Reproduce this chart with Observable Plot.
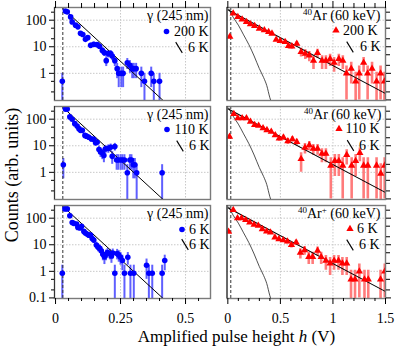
<!DOCTYPE html>
<html><head><meta charset="utf-8">
<script src="https://cdn.jsdelivr.net/npm/d3@7"></script>
<script src="https://cdn.jsdelivr.net/npm/@observablehq/plot@0.6"></script>
<style>
body{margin:0;background:#fff;}
#wrap{position:relative;width:415px;height:351px;overflow:hidden;font-family:"Liberation Serif",serif;color:#000;}
#wrap svg{position:absolute;left:0;top:0;}
.ttl{position:absolute;white-space:nowrap;font-family:"Liberation Serif",serif;font-size:17px;}
</style></head><body><div id="wrap"></div>
<script>
// ---------- data ----------
// gamma (245 nm) panels: pulse height h (V), counts, error
const gH200 = [0.026,0.038,0.045,0.058,0.064,0.077,0.086,0.096,0.105,0.115,0.124,0.135,0.147,0.160,0.169,0.180,0.188,0.195,0.203,0.212,0.218,0.228,0.237,0.243,0.253,0.260,0.276,0.286,0.295,0.301,0.310,0.330,0.342,0.368,0.378,0.400];
const gC200 = [0.5,220,205,133,86,65,56,32,29,19,22,11.3,12.3,12,10.4,7.3,6.0,3.0,5.5,5.5,4.5,3.0,1.5,1.0,1.0,1.0,2.5,2.0,1.5,1.5,1.5,1.0,0.5,1.0,0.5,0.5];
const gE200 = [0.5,10.5,10.1,8.2,6.6,5.7,5.3,4.0,3.8,3.1,3.3,2.4,2.5,2.4,2.3,1.9,1.7,1.2,1.7,1.7,1.5,1.2,0.87,0.71,0.71,0.71,1.1,1.0,0.87,0.87,0.87,0.71,0.5,0.71,0.5,0.5];

const gH110 = [0.030,0.038,0.045,0.055,0.064,0.074,0.083,0.090,0.096,0.103,0.113,0.119,0.128,0.138,0.147,0.154,0.160,0.167,0.173,0.180,0.186,0.192,0.203,0.212,0.218,0.228,0.235,0.241,0.250,0.257,0.265,0.276,0.286,0.292,0.299,0.305,0.312,0.410];
const gC110 = [1.94,240,240,122,100,68,55,44,38,38,24.5,23,21,18,17.4,12.9,13.6,7.2,6.0,5.3,4.3,7.6,8.0,8.7,4.0,9.3,2.9,2.9,2.9,2.9,2.9,0.97,2.9,2.9,1.94,1.94,0.97,0.97];
const gE110 = [1.37,15.3,15.3,10.9,9.8,8.1,7.3,6.5,6.1,6.1,4.9,4.7,4.5,4.2,4.1,3.5,3.6,2.6,2.4,2.3,2.0,2.7,2.8,2.9,2.0,3.0,1.7,1.7,1.7,1.7,1.7,0.97,1.7,1.7,1.37,1.37,0.97,0.97];

const gH6 = [0.026,0.036,0.045,0.055,0.064,0.070,0.081,0.086,0.094,0.100,0.109,0.115,0.122,0.128,0.135,0.141,0.147,0.157,0.164,0.170,0.176,0.182,0.188,0.194,0.200,0.209,0.215,0.220,0.228,0.237,0.243,0.250,0.257,0.265,0.278,0.288,0.301,0.350,0.359,0.372,0.410,0.420];
const gC6 = [0.85,223,223,124,69,64,60,45,42.5,49,31.8,27.6,25,23,23,17.3,15,9.7,8.0,7.3,5.9,4.4,3.5,4.4,5.1,4.7,3.8,4.9,0.85,4.7,4.1,3.4,2.55,0.85,3.4,0.85,0.85,1.7,0.85,0.85,0.85,2.55];
const gE6 = [0.85,13.8,13.8,10.3,7.7,7.4,7.1,6.2,6.0,6.5,5.2,4.8,4.6,4.4,4.4,3.8,3.6,2.9,2.6,2.5,2.2,1.9,1.7,1.9,2.1,2.0,1.8,2.0,0.85,2.0,1.9,1.7,1.5,0.85,1.7,0.85,0.85,1.2,0.85,0.85,0.85,1.5];

// 40Ar (60 keV) panels
const aH200 = [0.019,0.051,0.095,0.136,0.177,0.215,0.255,0.300,0.347,0.388,0.420,0.460,0.498,0.545,0.577,0.609,0.656,0.697,0.737,0.775,0.815,0.853,0.897,0.933,0.973,1.011,1.056,1.094,1.129,1.174,1.216,1.250,1.292,1.330,1.372,1.415,1.453,1.490];
const aC200 = [24,179,133,106,86,71,61,48.5,42,36,31.4,18.6,16.5,15.1,10.7,10.4,13.1,6.4,5.5,4.7,3.0,5.9,3.0,3.0,3.5,2.5,3.5,3.0,1.0,1.5,0.5,1.0,2.5,1.0,1.5,0.5,1.0,0.5];
const aE200 = [3.5,9.5,8.2,7.3,6.6,6.0,5.5,4.9,4.6,4.2,4.0,3.0,2.9,2.7,2.3,2.3,2.6,2.3,2.2,2.0,1.6,2.2,1.6,1.6,1.7,1.4,1.7,1.6,0.9,1.1,0.6,0.9,1.4,0.9,1.1,0.6,0.9,0.6];

const aH110 = [0.016,0.057,0.095,0.136,0.177,0.215,0.255,0.293,0.335,0.372,0.413,0.451,0.489,0.529,0.571,0.614,0.656,0.697,0.734,0.775,0.813,0.854,0.895,0.933,0.980,1.018,1.056,1.093,1.131,1.178,1.216,1.256,1.292,1.332,1.415,1.455,1.492];
const aC110 = [21.8,159,109,109,109,81,60.5,57,45.5,39,33.7,25,18.8,20.5,14.9,17.8,14,3.2,8.5,10.5,7.8,7.8,5.0,5.0,1.8,2.7,2.7,1.8,4.5,1.8,2.7,5.4,1.8,1.8,1.8,0.9,1.8];
const aE110 = [4.4,12,9.9,9.9,9.9,8.5,7.4,7.2,6.4,5.9,5.5,4.7,4.1,4.3,3.7,4.0,3.5,2.2,3.6,4.0,3.4,3.4,2.7,2.7,1.7,2.0,2.0,1.7,2.6,1.7,2.0,2.9,1.7,1.7,1.7,1.2,1.7];

// 40Ar+ (60 keV), 6 K
const aH6 = [0.007,0.051,0.092,0.130,0.170,0.208,0.250,0.290,0.328,0.369,0.406,0.448,0.486,0.527,0.567,0.605,0.650,0.690,0.730,0.770,0.807,0.854,0.888,0.933,0.973,1.011,1.053,1.090,1.131,1.172,1.210,1.251,1.300,1.336,1.453,1.493];
const aC6 = [31,204,100,100,86,69,57,52,39,32,29,19,16.4,15,13.3,9.8,12.3,5.0,6.3,3.5,3.5,6.0,3.5,2.5,2.0,2.5,2.5,2.0,2.0,0.5,0.5,1.0,0.5,0.5,0.5,1.0];
const aE6 = [3.9,10.1,7.1,7.1,6.6,5.9,5.3,5.1,4.4,4.0,3.8,3.1,2.9,2.7,2.6,2.2,2.5,2.1,2.3,1.7,1.7,2.2,1.7,1.4,1.3,1.4,1.4,1.3,1.3,0.6,0.6,0.9,0.6,0.6,0.6,0.9];

// 6 K reference fits (straight on log axis) and gamma response curve
const gammaFitH = [0, 0.45];
const gammaFitC = [500, 0.045];
const argonFitH = [0, 1.5];
const argonFitC = [245, 0.174];
const gammaRespH = [0.01, 0.05, 0.10, 0.15, 0.20, 0.25, 0.30, 0.34, 0.37, 0.40, 0.42];
const gammaRespC = [260, 130, 65, 28, 12, 4.5, 1.5, 0.7, 0.35, 0.12, 0.07];
const thresholdH = [0.028];

// axis ticks
const yMajor = [0.1, 1, 10, 100];
const yMinor = [0.2, 0.5, 2, 5, 20, 50, 200];
const xLeftMajor = [0, 0.25, 0.5];
const xLeftMinor = [0.05, 0.1, 0.15, 0.2, 0.3, 0.35, 0.4, 0.45, 0.55];
const xRightMajor = [0, 0.5, 1, 1.5];
const xRightMinor = [0.1, 0.2, 0.3, 0.4, 0.6, 0.7, 0.8, 0.9, 1.1, 1.2, 1.3, 1.4];

// legend texts
const gammaTitle = "γ (245 nm)";
const argonTitle = "⁴⁰Ar (60 keV)";
const argonIonTitle = "⁴⁰Ar⁺ (60 keV)";
const tempLabels = ["200 K", "110 K", "6 K"];
const refLabel = "6 K";

// ---------- layout ----------
const W = 415, Hh = 351;
const cols = [{l: 54, r: 210, domain: [-0.004, 0.596]}, {l: 226.5, r: 385, domain: [-0.008, 1.5]}];
const rows = [{t: 7, b: 100}, {t: 106, b: 199}, {t: 205, b: 298}];
const yDomain = [0.095, 300];

const slash = {draw(ctx, size) { const r = Math.sqrt(size / Math.PI); ctx.moveTo(-0.55 * r, -0.9 * r); ctx.lineTo(0.55 * r, 0.9 * r); }};

function toRows(H, C, E) {
  return H.map((h, i) => ({h, c: C[i], lo: Math.max(C[i] - E[i], 0.005), hi: C[i] + E[i]}));
}

function panel(ci, ri, H, C, E, opts) {
  const col = cols[ci], row = rows[ri];
  const data = toRows(H, C, E);
  const isLeft = ci === 0;
  const marks = [];
  const gx = isLeft ? [0.25, 0.5] : [0.5, 1];
  marks.push(Plot.ruleX(gx, {stroke: "#c8c8c8", strokeDasharray: "1.5,1.5"}));
  marks.push(Plot.ruleY([1, 10, 100], {stroke: "#c8c8c8", strokeDasharray: "1.5,1.5"}));
  marks.push(Plot.ruleX(data, {x: "h", y1: "lo", y2: "hi", stroke: opts.errColor, strokeWidth: isLeft ? 2 : 2.6, clip: true}));
  if (isLeft) {
    marks.push(Plot.line(gammaFitH.map((h, i) => ({h, c: gammaFitC[i]})), {x: "h", y: "c", stroke: "#000", strokeWidth: 1, clip: true}));
  } else {
    marks.push(Plot.line(gammaRespH.map((h, i) => ({h, c: gammaRespC[i]})), {x: "h", y: "c", stroke: "#222", strokeWidth: 0.8, curve: "monotone-x", clip: true}));
    marks.push(Plot.line(argonFitH.map((h, i) => ({h, c: argonFitC[i]})), {x: "h", y: "c", stroke: "#000", strokeWidth: 1.1, clip: true}));
  }
  marks.push(Plot.ruleX(thresholdH, {stroke: "#333", strokeDasharray: "3,2", strokeWidth: 1}));
  marks.push(Plot.dot(data, {x: "h", y: "c", r: opts.r, symbol: opts.symbol, fill: opts.color, stroke: "none", clip: true}));
  marks.push(Plot.frame({stroke: "#7a7a7a", strokeWidth: 1.4}));
  marks.push(Plot.ruleX([col.domain[0]], {stroke: "#333", strokeWidth: 1}));
  if (isLeft) {
    const maj = ri === 2 ? yMajor : yMajor.slice(1);
    marks.push(Plot.axisY(maj, {anchor: "left", tickSize: 5, tickPadding: 3, tickFormat: d => String(d), fontSize: 14, label: null}));
    marks.push(Plot.axisY(yMinor, {anchor: "left", tickSize: 3, tickFormat: () => "", label: null}));
  } else {
    marks.push(Plot.axisY(yMajor, {anchor: "right", tickSize: 5, tickFormat: () => "", label: null}));
    marks.push(Plot.axisY(yMinor, {anchor: "right", tickSize: 4, tickFormat: () => "", label: null}));
  }
  const xMaj = isLeft ? xLeftMajor : xRightMajor;
  const xMin = isLeft ? xLeftMinor : xRightMinor;
  if (ri === 0) {
    marks.push(Plot.axisX(xMaj, {anchor: "top", tickSize: 7, tickFormat: () => "", label: null}));
    marks.push(Plot.axisX(xMin, {anchor: "top", tickSize: 5, tickFormat: () => "", label: null}));
  }
  if (ri === 2) {
    marks.push(Plot.axisX(xMaj, {anchor: "bottom", tickSize: 6, tickPadding: 9, tickFormat: d => String(d), fontSize: 14, label: null}));
    marks.push(Plot.axisX(xMin, {anchor: "bottom", tickSize: 3, tickFormat: () => "", label: null}));
  }
  const lg = opts.legend;
  const txt = {frameAnchor: "top-right", textAnchor: "end", lineAnchor: "middle", fontSize: 14, text: d => d};
  marks.push(Plot.text([lg.title], {...txt, dx: lg.tdx, dy: 8, className: "ptitle"}));
  marks.push(Plot.dot([lg.temp], {frameAnchor: "top-right", dx: lg.mdx, dy: lg.mdy, r: opts.r, symbol: opts.symbol, fill: opts.color, stroke: "none"}));
  marks.push(Plot.text([lg.temp], {...txt, dx: lg.ldx, dy: lg.mdy}));
  marks.push(Plot.dot([refLabel], {frameAnchor: "top-right", dx: lg.sdx, dy: lg.sdy, r: 6, symbol: slash, fill: "none", stroke: "#000", strokeWidth: 1.1}));
  marks.push(Plot.text([refLabel], {...txt, dx: lg.rdx, dy: lg.sdy}));

  const svg = Plot.plot({
    width: W, height: Hh,
    marginLeft: col.l, marginRight: W - col.r, marginTop: row.t, marginBottom: Hh - row.b,
    x: {domain: col.domain, axis: null, label: null},
    y: {type: "log", domain: yDomain, axis: null, label: null},
    style: {background: "transparent", fontFamily: "Liberation Serif, serif", fontSize: "14px", overflow: "visible", color: "#000"},
    marks
  });
  // typeset superscripts of the argon titles
  svg.querySelectorAll("text").forEach(t => {
    const s = t.textContent;
    const m = s.match(/^⁴⁰Ar(⁺?) (\(60 keV\))$/);
    if (m) {
      const ns = "http://www.w3.org/2000/svg";
      const target = t.querySelector("tspan") || t;
      target.textContent = "";
      const add = (str, attrs) => { const ts = document.createElementNS(ns, "tspan"); for (const k in attrs) ts.setAttribute(k, attrs[k]); ts.textContent = str; target.appendChild(ts); };
      add("40", {"font-size": "9", dy: "-5"});
      add("Ar", {dy: "5"});
      if (m[1]) { add("+", {"font-size": "9", dy: "-5"}); add(" " + m[2], {dy: "5"}); }
      else add(" " + m[2], {});
    }
  });
  return svg;
}

const blue = {color: "#0000ff", errColor: "#5f5fff", r: 2.8, symbol: "circle"};
const red = {color: "#ff0000", errColor: "#ff7b7b", r: 2.7, symbol: "triangle"};

const wrap = document.getElementById("wrap");
const specs = [
  [0, 0, gH200, gC200, gE200, {...blue, legend: {title: gammaTitle, tdx: -2, temp: tempLabels[0], mdx: -44, mdy: 24, ldx: -2, sdx: -31.5, sdy: 40, rdx: -2}}],
  [0, 1, gH110, gC110, gE110, {...blue, legend: {title: gammaTitle, tdx: -2, temp: tempLabels[1], mdx: -43.5, mdy: 23, ldx: -2, sdx: -30.5, sdy: 39.5, rdx: -1}}],
  [0, 2, gH6, gC6, gE6, {...blue, legend: {title: gammaTitle, tdx: -2, temp: tempLabels[2], mdx: -28.5, mdy: 24, ldx: -1, sdx: -25.5, sdy: 39, rdx: -1}}],
  [1, 0, aH200, aC200, aE200, {...red, legend: {title: argonTitle, tdx: -5, temp: tempLabels[0], mdx: -49.5, mdy: 23, ldx: -8, sdx: -35.5, sdy: 39.5, rdx: -5}}],
  [1, 1, aH110, aC110, aE110, {...red, legend: {title: argonTitle, tdx: -4, temp: tempLabels[1], mdx: -46.5, mdy: 22.5, ldx: -6, sdx: -35, sdy: 39, rdx: -6}}],
  [1, 2, aH6, aC6, aE6, {...red, legend: {title: argonIonTitle, tdx: -5, temp: tempLabels[2], mdx: -35.5, mdy: 23.5, ldx: -8, sdx: -35.5, sdy: 39.5, rdx: -6}}]
];
for (const s of specs) wrap.appendChild(panel(...s));

const yt = document.createElement("div");
yt.className = "ttl";
yt.textContent = "Counts (arb. units)";
yt.style.left = "12px"; yt.style.top = "175px";
yt.style.fontSize = "18px";
yt.style.transform = "translate(-50%,-50%) rotate(-90deg)";
wrap.appendChild(yt);

const xt = document.createElement("div");
xt.className = "ttl";
xt.innerHTML = "Amplified pulse height <i>h</i> (V)";
xt.style.left = "236.5px"; xt.style.top = "337px";
xt.style.transform = "translate(-50%,-50%)";
wrap.appendChild(xt);
</script></body></html>
